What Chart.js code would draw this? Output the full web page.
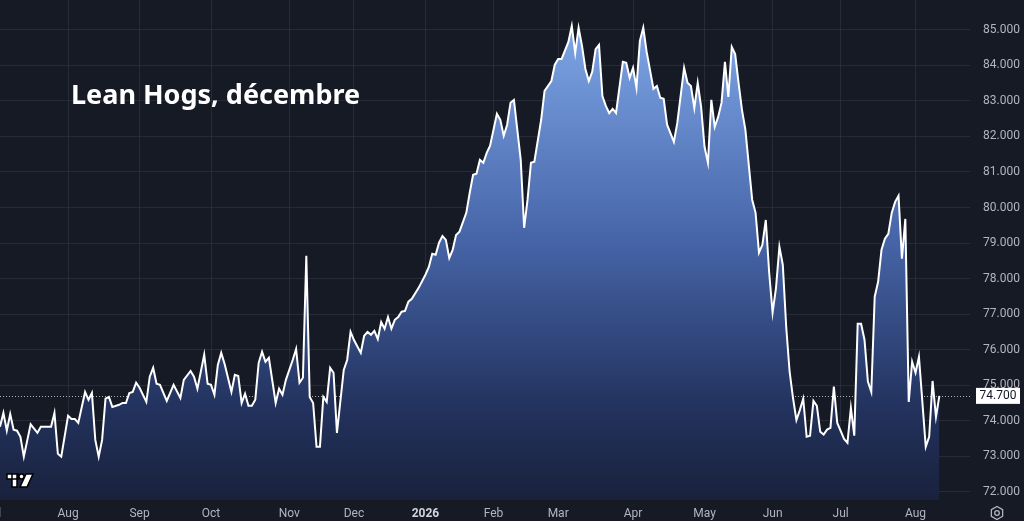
<!DOCTYPE html>
<html>
<head>
<meta charset="utf-8">
<script src="https://cdn.jsdelivr.net/npm/chart.js@4.4.1/dist/chart.umd.min.js"></script>
<style>
  html, body { margin: 0; padding: 0; background: #161a25; }
  #wrap { width: 1024px; height: 521px; position: relative; }
</style>
</head>
<body>
<div id="wrap"><canvas id="hogs-chart" width="1024" height="521"></canvas></div>
<script>
// trading-day index of each point (0 = left edge of the picture)
const dayIndex = [
  0, 1, 2, 3, 4, 5, 6, 7, 9, 11, 12, 15, 16, 17, 18, 20, 21, 22, 23, 25,
  26, 27, 28, 29, 30, 31, 32, 33, 35, 36, 37, 38, 39, 40, 41, 43, 44, 45, 46, 47,
  49, 51, 53, 54, 56, 57, 58, 60, 61, 62, 63, 64, 65, 66, 68, 69, 70, 71, 72, 73,
  74, 75, 76, 77, 78, 79, 81, 82, 83, 84, 86, 87, 88, 89, 90, 91, 92, 93, 94, 95,
  96, 97, 98, 99, 101, 102, 103, 104, 106, 107, 108, 109, 110, 111, 112, 113, 114, 115, 116, 117,
  118, 119, 120, 121, 123, 125, 126, 127, 128, 129, 130, 131, 132, 133, 134, 135, 137, 138, 139, 140,
  141, 142, 143, 144, 146, 147, 148, 149, 150, 151, 153, 154, 155, 156, 157, 159, 160, 162, 163, 164,
  165, 167, 168, 169, 170, 171, 172, 173, 174, 175, 176, 177, 178, 179, 180, 181, 183, 184, 185, 186,
  187, 188, 189, 190, 192, 193, 194, 195, 196, 198, 199, 201, 202, 203, 204, 205, 206, 207, 208, 209,
  210, 211, 212, 213, 214, 215, 216, 217, 218, 219, 221, 222, 223, 224, 225, 226, 227, 228, 229, 230,
  231, 232, 233, 234, 235, 236, 237, 238, 239, 240, 241, 242, 243, 244, 245, 246, 248, 249, 250, 251,
  252, 253, 254, 255, 256, 257, 258, 259, 260, 261, 262, 263, 264, 265, 266, 267, 268, 269, 270, 272,
  273, 274, 275, 276
];

// settlement prices
const prices = [
  73.83, 74.22, 73.72, 74.19, 73.75, 73.72, 73.55, 72.99, 73.90, 73.66, 73.83, 73.83, 74.22, 73.07, 72.99, 74.14, 74.05, 74.05, 73.94, 74.81,
  74.59, 74.78, 73.46, 72.99, 73.46, 74.62, 74.67, 74.39, 74.45, 74.50, 74.50, 74.78, 74.81, 75.07, 74.93, 74.53, 75.24, 75.49, 75.04, 75.01,
  74.56, 75.01, 74.64, 75.15, 75.40, 75.24, 74.90, 75.86, 75.04, 75.01, 74.73, 75.57, 75.91, 75.60, 74.81, 75.29, 75.26, 74.50, 74.76, 74.42,
  74.42, 74.59, 75.63, 75.94, 75.66, 75.77, 74.50, 74.90, 74.73, 75.15, 75.71, 76.02, 75.07, 75.21, 78.64, 74.67, 74.50, 73.27, 73.27, 74.67,
  74.53, 75.49, 75.35, 73.66, 75.43, 75.71, 76.50, 76.27, 75.91, 76.39, 76.50, 76.42, 76.53, 76.30, 76.78, 76.59, 76.92, 76.59, 76.84, 76.92,
  77.07, 77.09, 77.35, 77.43, 77.74, 78.11, 78.33, 78.70, 78.67, 79.01, 79.20, 79.09, 78.58, 78.81, 79.23, 79.32, 79.85, 80.41, 80.92, 80.95,
  81.34, 81.26, 81.54, 81.74, 82.64, 82.47, 82.02, 82.33, 82.95, 83.03, 81.34, 79.43, 80.22, 81.26, 81.29, 82.47, 83.28, 83.56, 84.02, 84.18,
  84.18, 84.66, 85.11, 84.35, 85.06, 84.55, 83.90, 83.56, 83.82, 84.46, 84.58, 83.14, 82.86, 82.66, 82.78, 82.66, 84.10, 84.07, 83.65, 83.93,
  83.37, 84.69, 85.06, 84.38, 83.34, 83.42, 83.09, 83.06, 82.33, 81.85, 82.38, 83.93, 83.51, 83.42, 82.80, 83.51, 82.83, 81.71, 81.26, 83.03,
  82.27, 82.55, 82.95, 84.10, 83.11, 84.52, 84.32, 83.51, 82.75, 82.19, 80.22, 79.85, 78.73, 78.95, 79.65, 78.16, 77.04, 77.74, 78.90, 78.39,
  76.64, 75.38, 74.64, 74.02, 74.30, 74.62, 73.55, 73.58, 74.56, 74.42, 73.69, 73.61, 73.75, 73.80, 74.96, 73.94, 73.49, 73.38, 74.36, 73.58,
  76.73, 76.73, 76.28, 75.10, 74.81, 77.49, 77.91, 78.81, 79.12, 79.26, 79.85, 80.16, 80.33, 78.56, 79.68, 74.53, 75.66, 75.35, 75.80, 73.27,
  73.55, 75.12, 74.11, 74.70
];

// month boundaries on the time axis (Jul sits just off the left edge)
const monthTicks = [-2, 20, 41, 62, 85, 104, 125, 145, 164, 186, 207, 227, 247, 269];
const monthLabels = ["Jul", "Aug", "Sep", "Oct", "Nov", "Dec", "2026", "Feb", "Mar", "Apr", "May", "Jun", "Jul", "Aug"];

const priceTicks = [72, 73, 74, 75, 76, 77, 78, 79, 80, 81, 82, 83, 84, 85];
const lastPrice = prices[prices.length - 1];
const chartTitle = "Lean Hogs, décembre";

const gridColor = "rgba(54, 58, 72, 0.55)";
const labelColor = "#b2b5be";

// fill gradient, bright at the top, fading into the background
function areaGradient(context) {
  const { ctx, chartArea } = context.chart;
  if (!chartArea) return "rgba(70, 100, 170, 0.6)";
  const g = ctx.createLinearGradient(0, chartArea.top + 25, 0, chartArea.bottom);
  g.addColorStop(0, "#7ea6e6");
  g.addColorStop(0.45, "#4665a8");
  g.addColorStop(0.8, "#23335f");
  g.addColorStop(1, "#19213c");
  return g;
}

// no extra room round the plot for the tick labels
function noPadding(scale) {
  scale.paddingTop = 0;
  scale.paddingBottom = 0;
  scale.paddingLeft = 0;
  scale.paddingRight = 0;
}

// dotted last-price line, price tag, title and small marks
const overlayPlugin = {
  id: "overlay",
  beforeDatasetsDraw(chart) {
    const { ctx, chartArea, scales } = chart;
    const y = Math.round(scales.y.getPixelForValue(lastPrice)) + 0.5;
    ctx.save();
    ctx.strokeStyle = "rgba(200, 203, 212, 0.85)";
    ctx.lineWidth = 1;
    ctx.setLineDash([1, 2]);
    ctx.beginPath();
    ctx.moveTo(chartArea.left, y);
    ctx.lineTo(chartArea.right, y);
    ctx.stroke();
    ctx.restore();
  },
  afterDraw(chart) {
    const { ctx, chartArea, scales } = chart;
    const y = scales.y.getPixelForValue(lastPrice);
    ctx.save();
    // price tag
    ctx.fillStyle = "#ffffff";
    ctx.fillRect(chartArea.right + 6, y - 8, 44, 16);
    ctx.fillStyle = "#131722";
    ctx.font = "12px Roboto";
    ctx.textAlign = "center";
    ctx.textBaseline = "middle";
    ctx.fillText(lastPrice.toFixed(3), chartArea.right + 28, y + 0.5);

    // title
    ctx.fillStyle = "#ffffff";
    ctx.font = "bold 27px 'Noto Sans'";
    ctx.textAlign = "left";
    ctx.textBaseline = "alphabetic";
    ctx.fillText(chartTitle, 71, 104);

    // logo
    ctx.fillStyle = "#ffffff";
    ctx.strokeStyle = "#000000";
    ctx.lineWidth = 1.5;
    ctx.beginPath();
    ctx.rect(7, 474, 11, 5);
    ctx.rect(12, 474, 5, 13);
    ctx.fill();
    ctx.stroke();
    ctx.beginPath();
    ctx.arc(21.5, 476.5, 2.5, 0, Math.PI * 2);
    ctx.fill();
    ctx.stroke();
    ctx.beginPath();
    ctx.moveTo(26, 474);
    ctx.lineTo(33, 474);
    ctx.lineTo(27, 487);
    ctx.lineTo(20, 487);
    ctx.closePath();
    ctx.fill();
    ctx.stroke();

    // settings icon
    ctx.strokeStyle = labelColor;
    ctx.lineWidth = 1.3;
    ctx.beginPath();
    for (let i = 0; i < 6; i++) {
      const a = Math.PI / 6 + (i * Math.PI) / 3;
      const px = 997 + 6.5 * Math.cos(a);
      const py = 513 + 6.5 * Math.sin(a);
      if (i === 0) ctx.moveTo(px, py); else ctx.lineTo(px, py);
    }
    ctx.closePath();
    ctx.stroke();
    ctx.beginPath();
    ctx.arc(997, 513, 2.3, 0, Math.PI * 2);
    ctx.stroke();
    ctx.restore();
  },
};

const hogsChartElement = document.getElementById("hogs-chart");
const hogsChart = new Chart(hogsChartElement, {
  type: "line",
  data: {
    datasets: [
      {
        label: chartTitle,
        data: dayIndex.map((d, i) => ({ x: d, y: prices[i] })),
        borderColor: "#ffffff",
        borderWidth: 2,
        pointRadius: 0,
        tension: 0,
        fill: "start",
        backgroundColor: areaGradient,
      },
    ],
  },
  options: {
    responsive: false,
    animation: false,
    layout: { padding: 0 },
    plugins: {
      legend: { display: false },
      tooltip: { enabled: false },
    },
    scales: {
      x: {
        type: "linear",
        min: 0,
        max: 285,
        afterBuildTicks: (scale) => {
          scale.ticks = monthTicks.map((v) => ({ value: v }));
        },
        afterFit: (scale) => {
          scale.height = 21;
          noPadding(scale);
        },
        border: { display: false },
        grid: { color: gridColor, drawTicks: false },
        ticks: {
          autoSkip: false,
          maxRotation: 0,
          padding: 7,
          callback: (v) => monthLabels[monthTicks.indexOf(v)],
          color: (c) => (c.tick && c.tick.value === 125 ? "#d1d4dc" : labelColor),
          font: (c) => ({
            family: "Roboto",
            size: 12,
            weight: c.tick && c.tick.value === 125 ? "bold" : "normal",
          }),
        },
      },
      y: {
        position: "right",
        min: 71.77,
        max: 85.84,
        afterBuildTicks: (scale) => {
          scale.ticks = priceTicks.map((v) => ({ value: v }));
        },
        afterFit: (scale) => {
          scale.width = 54;
          noPadding(scale);
        },
        border: { display: false },
        grid: { color: gridColor, drawTicks: false },
        ticks: {
          padding: 13,
          color: labelColor,
          font: { family: "Roboto", size: 12 },
          callback: (v) => v.toFixed(3),
        },
      },
    },
  },
  plugins: [overlayPlugin],
});
</script>
</body>
</html>
